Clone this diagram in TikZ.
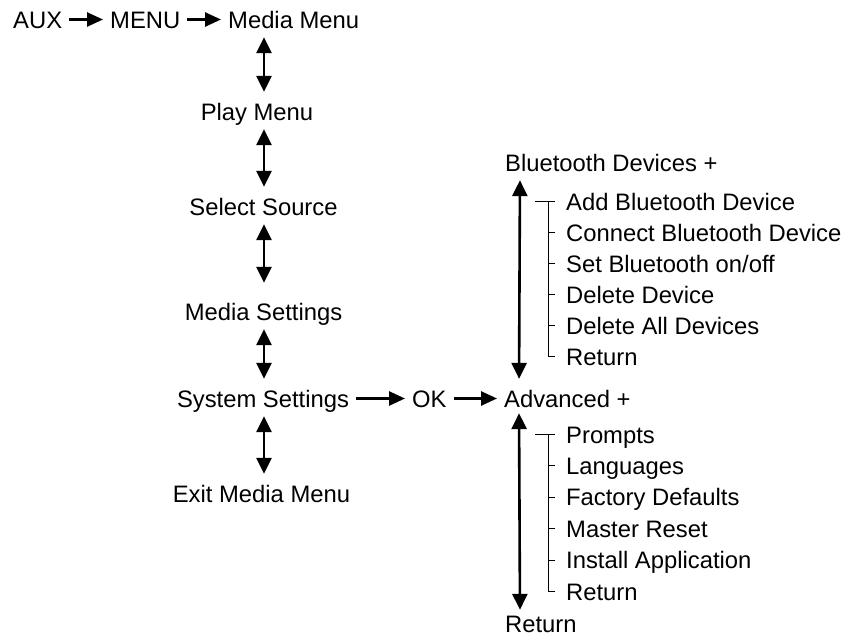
\documentclass[tikz,border=0pt]{standalone}
\usepackage{fontspec}
\setmainfont{Liberation Sans}
\usepackage{tikz}
\usetikzlibrary{arrows.meta, positioning}
\tikzstyle{entry} = [
    inner sep=0pt,
    text height=17pt,
    text depth=0pt,
    font=\fontsize{23.8}{28}\selectfont
]
\tikzstyle{nextarrow} = [line width=2.6pt, -{Triangle[length=16pt, width=14pt]}, shorten <=7pt, shorten >=7pt]
\tikzstyle{updownarrow} = [line width=2.6pt, {Triangle[length=16pt, width=15pt]}-{Triangle[length=16pt, width=15pt]}, shorten <=9pt, shorten >=11pt]
\tikzstyle{branch} = [line width=1pt]

\begin{document}
\begin{tikzpicture}[x=1pt, y=-1pt]
    \useasboundingbox (0,0) rectangle (849,637);
    % Hauptmenue
    \node (aux) [entry, anchor=base west] at (13,28) {AUX};
    \node (menu) [entry, anchor=base west] at (110,28) {MENU};
    \node (media) [entry, anchor=base west] at (228,28) {Media Menu};
    \node (play) [entry, anchor=base] at (257,120) {Play Menu};
    \node (select) [entry, anchor=base] at (263.5,215) {Select Source};
    \node (msettings) [entry, anchor=base] at (263.5,320) {Media Settings};
    \node (system) [entry, anchor=base] at (263,407) {System Settings};
    \node (exit) [entry, anchor=base] at (261.5,502) {Exit Media Menu};
    \node (ok) [entry, anchor=base west] at (412,407) {OK};
    \node (adv) [entry, anchor=base west] at (504,407) {Advanced +};
    \node (bt) [entry, anchor=base west] at (505,171) {Bluetooth Devices +};
    \node (ret) [entry, anchor=base west] at (505,632) {Return};
    \coordinate (col) at (264,0);
    % Bluetooth-Untermenue
    \node (addbt) [entry, anchor=base west] at (566,210) {Add Bluetooth Device};
    \node (connbt) [entry, below right=13.6pt and 0pt of addbt.south west] {Connect Bluetooth Device};
    \node (setbt) [entry, below right=13.6pt and 0pt of connbt.south west] {Set Bluetooth on/off};
    \node (delbt) [entry, below right=13.6pt and 0pt of setbt.south west] {Delete Device};
    \node (delallbt) [entry, below right=13.6pt and 0pt of delbt.south west] {Delete All Devices};
    \node (retbt) [entry, below right=13.6pt and 0pt of delallbt.south west] {Return};
    % Advanced-Untermenue
    \node (prompts) [entry, anchor=base west] at (566,443) {Prompts};
    \node (lang) [entry, below right=14pt and 0pt of prompts.south west] {Languages};
    \node (factory) [entry, below right=14pt and 0pt of lang.south west] {Factory Defaults};
    \node (master) [entry, below right=14pt and 0pt of factory.south west] {Master Reset};
    \node (install) [entry, below right=14pt and 0pt of master.south west] {Install Application};
    \node (retadv) [entry, below right=14pt and 0pt of install.south west] {Return};
    % Pfeile
    \draw [nextarrow] (aux) -- (menu);
    \draw [nextarrow] (menu) -- (media);
    \draw [nextarrow] (system) -- (ok);
    \draw [nextarrow] (ok) -- (adv);
    \draw [updownarrow] (media.south -| col) -- (play.north -| col);
    \draw [updownarrow] (play.south -| col) -- (select.north -| col);
    \draw [updownarrow, shorten >=20pt] (select.south -| col) -- (msettings.north -| col);
    \draw [updownarrow] (msettings.south -| col) -- (system.north -| col);
    \draw [updownarrow] (system.south -| col) -- (exit.north -| col);
    \draw [updownarrow] ([xshift=15pt]bt.south west) -- ([xshift=15pt]adv.north west);
    \draw [updownarrow, shorten <=6pt, shorten >=5pt] ([xshift=15pt]adv.south west) -- ([xshift=15pt]ret.north west);
    % Baumlinien
    \draw [branch] ([xshift=-31pt]addbt.west) -- ([xshift=-11pt]addbt.west);
    \draw [branch] ([xshift=-18pt]addbt.west) |- ([xshift=-11pt]retbt.west);
    \draw [branch] ([xshift=-18pt]connbt.west) -- ([xshift=-11pt]connbt.west);
    \draw [branch] ([xshift=-18pt]setbt.west) -- ([xshift=-11pt]setbt.west);
    \draw [branch] ([xshift=-18pt]delbt.west) -- ([xshift=-11pt]delbt.west);
    \draw [branch] ([xshift=-18pt]delallbt.west) -- ([xshift=-11pt]delallbt.west);
    \draw [branch] ([xshift=-31pt]prompts.west) -- ([xshift=-11pt]prompts.west);
    \draw [branch] ([xshift=-18pt]prompts.west) |- ([xshift=-11pt]retadv.west);
    \draw [branch] ([xshift=-18pt]lang.west) -- ([xshift=-11pt]lang.west);
    \draw [branch] ([xshift=-18pt]factory.west) -- ([xshift=-11pt]factory.west);
    \draw [branch] ([xshift=-18pt]master.west) -- ([xshift=-11pt]master.west);
    \draw [branch] ([xshift=-18pt]install.west) -- ([xshift=-11pt]install.west);
\end{tikzpicture}
\end{document}
